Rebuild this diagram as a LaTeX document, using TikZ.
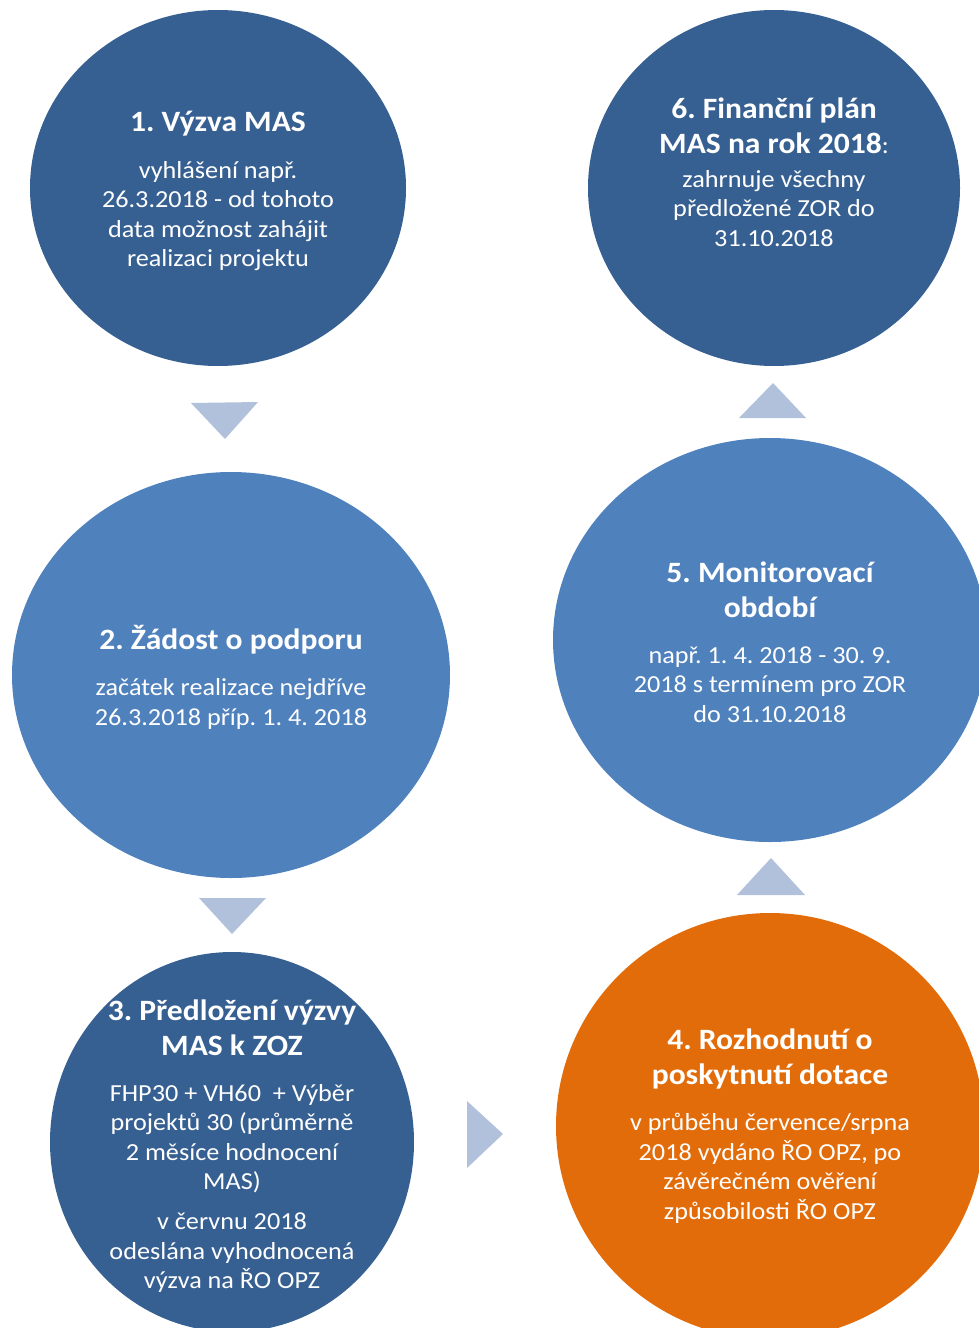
\documentclass[tikz,border=0pt]{standalone}
\usepackage{fontspec}
\setmainfont{Carlito}[FakeStretch=1.07]
\frenchspacing
\definecolor{dkblue}{HTML}{376092}
\definecolor{mdblue}{HTML}{4F81BD}
\definecolor{orng}{HTML}{E36C0A}
\definecolor{tri}{HTML}{B1C1DC}
\newcommand{\ttlf}{\fontsize{29.5}{35}\selectfont\bfseries}
\begin{document}
\begin{tikzpicture}[x=1pt,y=-1pt,
  txt/.style={text=white, align=center, inner sep=0pt, font=\fontsize{24.5}{29.5}\selectfont\frenchspacing},
  arr/.style={fill=tri, draw=none}]
\useasboundingbox (0,0) rectangle (979,1328);
\clip (0,0) rectangle (979,1328);
% circles
\fill[dkblue] (218,188) ellipse [x radius=188, y radius=178];
\fill[mdblue] (231,675) ellipse [x radius=219, y radius=203];
\fill[dkblue] (232,1142) ellipse [x radius=182, y radius=190];
\fill[orng] (770,1126) ellipse [x radius=214, y radius=213];
\fill[mdblue] (770,640) ellipse [x radius=217, y radius=202];
\fill[dkblue] (774,188) ellipse [x radius=186, y radius=178];
% triangles
\fill[arr] (191,403) -- (258,402) -- (225,439) -- cycle;
\fill[arr] (199,898) -- (266,898) -- (232,934) -- cycle;
\fill[arr] (467,1101) -- (467,1168) -- (503,1134) -- cycle;
\fill[arr] (805,895) -- (737,895) -- (771,858) -- cycle;
\fill[arr] (806,418) -- (739,418) -- (773,383) -- cycle;
% texts
\node[txt] (t1) at (218,191) {{\ttlf 1. Výzva MAS}\\[17.5pt]
 vyhlášení např.\\ 26.3.2018 - od tohoto\\ data možnost zahájit\\ realizaci projektu};
\node[txt] (t2) at (231,677) {{\ttlf 2. Žádost o podporu}\\[17pt]
 začátek realizace nejdříve\\ 26.3.2018 příp. 1. 4. 2018};
\node[txt] (t3) at (232,1146) {{\ttlf 3. Předložení výzvy}\\[5.5pt]
 {\ttlf MAS k ZOZ}\\[16.5pt]
 FHP30 + VH60 \ + Výběr\\ projektů 30 (průměrně\\ 2 měsíce hodnocení\\ MAS)\\[10.5pt]
 v červnu 2018\\ odeslána vyhodnocená\\ výzva na ŘO OPZ};
\node[txt] (t4) at (770,1126) {{\ttlf 4. Rozhodnutí o}\\[5.5pt]
 {\ttlf poskytnutí dotace}\\[16.5pt]
 v průběhu července/srpna\\ 2018 vydáno ŘO OPZ, po\\ závěrečném ověření\\ způsobilosti ŘO OPZ};
\node[txt] (t5) at (770,642) {{\ttlf 5. Monitorovací}\\[5.5pt]
 {\ttlf období}\\[16.5pt]
 např. 1. 4. 2018 - 30. 9.\\ 2018 s termínem pro ZOR\\ do 31.10.2018};
\node[txt] (t6) at (774,172) {{\ttlf 6. Finanční plán}\\[5.5pt]
 {\ttlf MAS na rok 2018}:\\[4.5pt]
 zahrnuje všechny\\ předložené ZOR do\\ 31.10.2018};
\end{tikzpicture}
\end{document}
